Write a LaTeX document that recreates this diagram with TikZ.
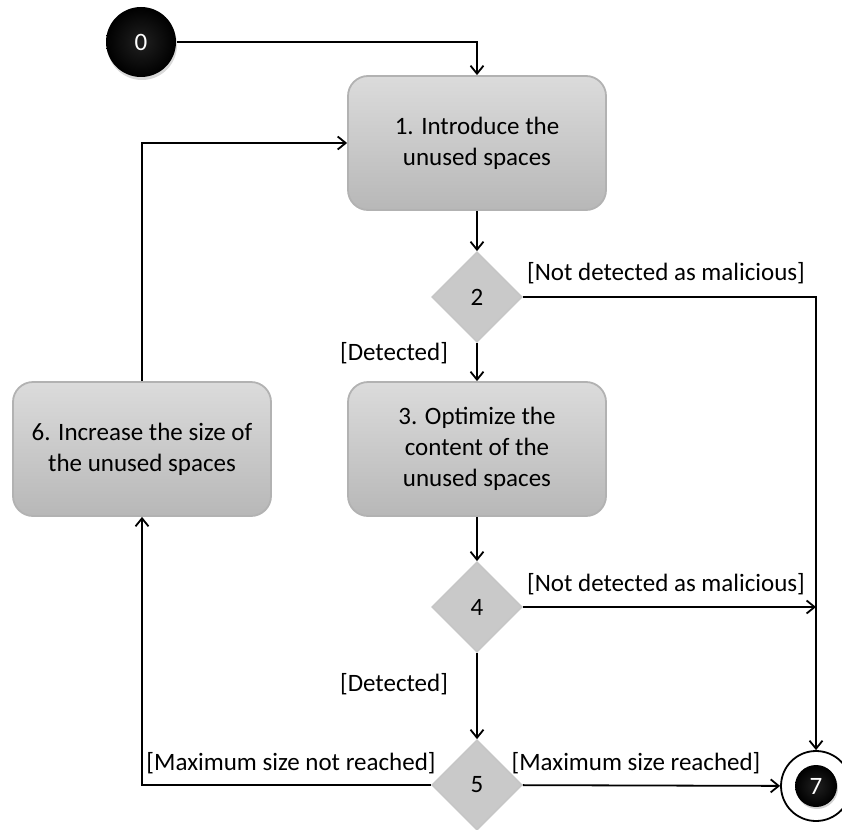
\documentclass[tikz,border=0pt]{standalone}
\usepackage{fontspec}
\setmainfont{Carlito}
\usetikzlibrary{shapes.geometric,arrows.meta,shadows}
\begin{document}
\begin{tikzpicture}[x=1pt,y=-1pt,
    txt/.style={font=\fontsize{25}{31}\selectfont},
    act/.style={txt,draw=gray!60,rounded corners=20pt,minimum width=258pt,minimum height=134pt,
        top color=gray!28,bottom color=gray!56,align=center},
    dec/.style={txt,diamond,draw=gray!45,fill=gray!42,minimum size=90pt,inner sep=0pt},
    arr/.style={-{Straight Barb[length=8pt,width=13pt]}},
    every path/.style={line width=1.8pt}]
    \useasboundingbox (0,0) rectangle (842,829);
    \node[txt,circle,minimum size=70pt,inner color=gray!25!black,outer color=black,text=white,
        drop shadow={opacity=0.3,shadow xshift=1pt,shadow yshift=-3pt}] (s0) at (141,42) {0};
    \node[act] (a1) at (477,143) {1. Introduce the\\unused spaces};
    \node[dec] (d2) at (477,297) {2};
    \node[act] (a3) at (477,449) {3. Optimize the\\content of the\\unused spaces};
    \node[dec] (d4) at (477,607) {4};
    \node[dec] (d5) at (477,785) {5};
    \node[act] (a6) at (142,449) {6. Increase the size of\\the unused spaces};
    \node[circle,draw,fill=white,minimum size=70pt] (e7) at (816,786) {};
    \node[txt,circle,minimum size=42pt,inner sep=0pt,inner color=gray!25!black,outer color=black,text=white,
        drop shadow={opacity=0.35,shadow xshift=1pt,shadow yshift=-2pt}] (e7in) at (e7) {7};
    \coordinate (j4) at (816,607);
    \node[txt] (l2a) at (666,273) {[Not detected as malicious]};
    \node[txt] (l2b) at (394,353) {[Detected]};
    \node[txt] (l4a) at (666,584) {[Not detected as malicious]};
    \node[txt] (l4b) at (394,684) {[Detected]};
    \node[txt] (l5a) at (291,763) {[Maximum size not reached]};
    \node[txt] (l5b) at (636,763) {[Maximum size reached]};
    \draw[arr] (s0) -| (a1);
    \draw[arr] (a1) -- (d2);
    \draw[arr] (d2) -| (e7);
    \draw[arr] (d2) -- (a3);
    \draw[arr] (a3) -- (d4);
    \draw[arr] (d4) -- (j4);
    \draw[arr] (d4) -- (d5);
    \draw[arr] (d5) -- (e7);
    \draw[arr] (d5) -| (a6);
    \draw[arr] (a6) |- (a1);
\end{tikzpicture}
\end{document}
